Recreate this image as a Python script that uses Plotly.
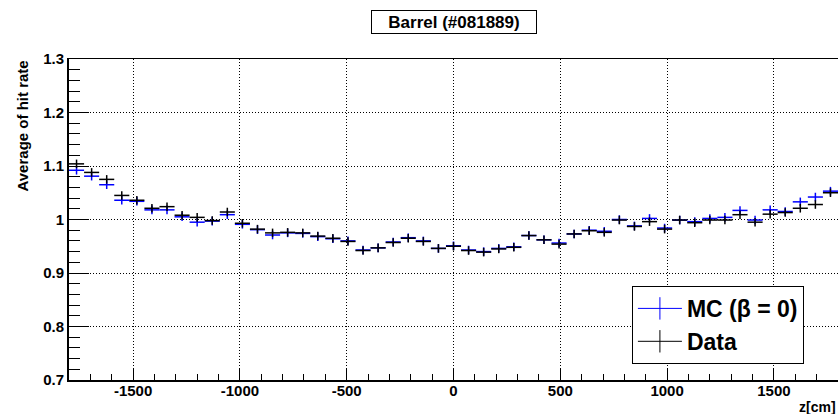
import numpy as np
import plotly.graph_objects as go

# ---- data ----
z_min, z_max, n_bins = -1800.0, 1800.0, 51
mc_rate = [1.092, 1.081, 1.065, 1.036, 1.034, 1.018, 1.018, 1.005, 0.995, 0.997,
           1.009, 0.991, 0.981, 0.971, 0.975, 0.974, 0.968, 0.964, 0.960, 0.943,
           0.947, 0.958, 0.966, 0.960, 0.946, 0.951, 0.943, 0.940, 0.946, 0.949,
           0.970, 0.962, 0.956, 0.973, 0.980, 0.978, 1.000, 0.988, 1.002, 0.984,
           0.999, 0.996, 1.002, 1.004, 1.017, 0.999, 1.018, 1.015, 1.033, 1.042,
           1.053]
data_rate = [1.104, 1.088, 1.075, 1.045, 1.036, 1.021, 1.024, 1.008, 1.004, 0.998,
             1.014, 0.993, 0.982, 0.975, 0.976, 0.975, 0.969, 0.965, 0.959, 0.942,
             0.947, 0.957, 0.965, 0.959, 0.946, 0.950, 0.942, 0.939, 0.945, 0.948,
             0.970, 0.962, 0.954, 0.973, 0.979, 0.976, 0.999, 0.987, 0.996, 0.982,
             0.999, 0.994, 0.999, 0.999, 1.009, 0.995, 1.010, 1.013, 1.021, 1.028,
             1.050]
rate_err = 0.008
x_tickvals = [-1500, -1000, -500, 0, 500, 1000, 1500]
x_ticktext = ["-1500", "-1000", "-500", "0", "500", "1000", "1500"]
y_tickvals = [0.7, 0.8, 0.9, 1.0, 1.1, 1.2, 1.3]
y_ticktext = ["0.7", "0.8", "0.9", "1", "1.1", "1.2", "1.3"]

edges = np.linspace(z_min, z_max, n_bins + 1)
centers = 0.5 * (edges[:-1] + edges[1:])
half_w = 0.5 * (edges[1] - edges[0])

FONT = "Liberation Sans, Arial, Helvetica, sans-serif"
GRID_DASH = "1px,2px"

fig = go.Figure()

def hist_trace(vals, color):
    return go.Scatter(
        x=centers, y=vals, mode="markers",
        marker=dict(size=1, color=color, opacity=0),
        error_x=dict(type="constant", value=half_w, color=color, thickness=1.5, width=0),
        error_y=dict(type="constant", value=rate_err, color=color, thickness=1.5, width=0),
        showlegend=False, hoverinfo="skip")

fig.add_trace(hist_trace(mc_rate, "#0000ff"))
fig.add_trace(hist_trace(data_rate, "#000000"))

# legend entries
for name, color in [("MC (β = 0)", "#0000ff"), ("Data", "#000000")]:
    fig.add_trace(go.Scatter(
        x=[None], y=[None], mode="lines+markers", name=name,
        line=dict(color=color, width=1),
        marker=dict(symbol="line-ns-open", size=16, color=color,
                    line=dict(color=color, width=1))))

# top frame line
fig.add_trace(go.Scatter(x=[None], y=[None], xaxis="x2", showlegend=False))

fig.update_layout(
    width=838, height=414,
    margin=dict(l=69, r=0, t=59, b=34),
    paper_bgcolor="white", plot_bgcolor="white",
    font=dict(family=FONT, size=15, color="black"),
    xaxis=dict(range=[z_min, z_max], tickvals=x_tickvals, ticktext=x_ticktext,
               ticks="inside", ticklen=12, tickwidth=1, tickcolor="black",
               tickfont=dict(family=FONT, size=15, color="black", weight="bold"),
               ticklabelstandoff=-4,
               showline=True, linecolor="black", linewidth=2, mirror=False,
               showgrid=True, gridcolor="black", griddash=GRID_DASH, gridwidth=1,
               zeroline=False,
               minor=dict(dtick=100, tick0=0, ticks="inside", ticklen=6,
                          tickcolor="black", showgrid=False)),
    xaxis2=dict(range=[z_min, z_max], overlaying="x", side="top",
                showline=True, linecolor="black", linewidth=1,
                showticklabels=False, ticks="", showgrid=False, zeroline=False),
    yaxis=dict(range=[0.7, 1.3], tickvals=y_tickvals, ticktext=y_ticktext,
               ticks="inside", ticklen=20, tickwidth=1, tickcolor="black",
               tickfont=dict(family=FONT, size=15, color="black", weight="bold"),
               showline=True, linecolor="black", linewidth=2,
               showgrid=True, gridcolor="black", griddash=GRID_DASH, gridwidth=1,
               zeroline=False,
               minor=dict(dtick=0.02, tick0=0.7, ticks="inside", ticklen=11,
                          tickcolor="black", showgrid=False)),
    legend=dict(x=0.732, y=0.293, xanchor="left", yanchor="top",
                bgcolor="white", bordercolor="black", borderwidth=1,
                font=dict(family=FONT, size=23, color="black", weight="bold"),
                itemsizing="trace", itemwidth=44, tracegroupgap=0),
    annotations=[
        dict(text="<b>Barrel (#081889)</b>", xref="paper", yref="paper",
             x=0.501, y=1.115, xanchor="center", yanchor="middle",
             showarrow=False, font=dict(family=FONT, size=17, color="black"),
             bordercolor="black", borderwidth=1, bgcolor="white",
             width=162, height=20, borderpad=1),
        dict(text="<b>Average of hit rate</b>", xref="paper", yref="paper",
             x=-0.061, y=0.79, xanchor="center", yanchor="middle",
             textangle=-90, showarrow=False,
             font=dict(family=FONT, size=15, color="black")),
        dict(text="<b>z[cm]</b>", xref="paper", yref="paper",
             x=1.0, y=-0.084, xanchor="right", yanchor="middle",
             showarrow=False, font=dict(family=FONT, size=14, color="black")),
    ],
)

fig.write_html("out.html")
